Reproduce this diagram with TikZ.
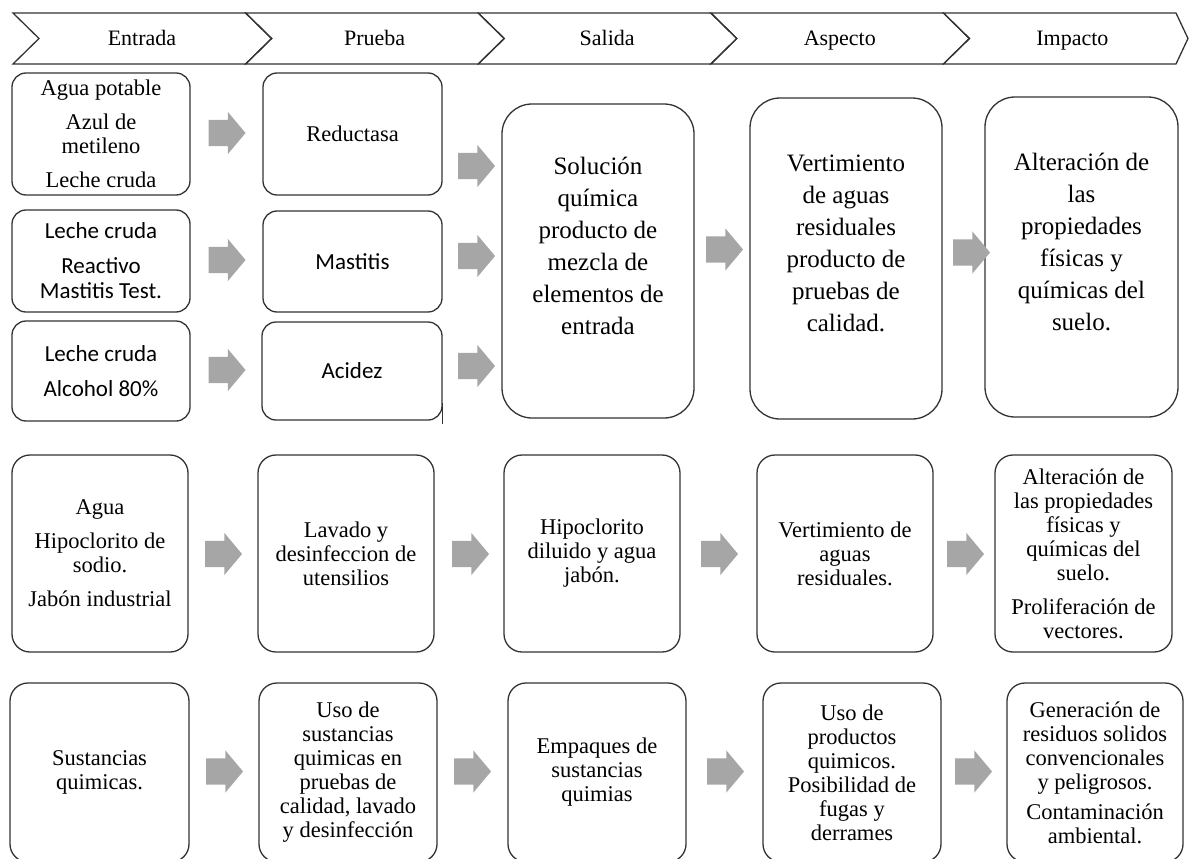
\documentclass[tikz,border=0pt]{standalone}
\usepackage{fontspec}
\setmainfont{Liberation Serif}
\newfontfamily\calibri{Carlito}
\usepackage{tikz}
\usetikzlibrary{shapes.arrows}

\begin{document}
\begin{tikzpicture}[x=1pt, y=-1pt,
    linea/.style={draw=black!80, line width=1.3pt},
    caja/.style={linea, rounded corners=14pt, align=center, inner sep=2pt,
        font=\fontsize{22.5}{24}\selectfont},
    sans/.style={font=\calibri\fontsize{23}{25}\selectfont},
    grande/.style={caja, rounded corners=30pt, minimum width=192pt, text depth=30pt,
        font=\fontsize{25}{32}\selectfont},
    fila2/.style={caja, rounded corners=18pt, minimum width=176pt, minimum height=197pt},
    fila3/.style={caja, rounded corners=18pt, minimum width=178pt, minimum height=179pt},
    flecha/.style={single arrow, fill=black!35, draw=none, inner sep=0pt, text height=26pt,
        text depth=0pt, minimum height=37pt, single arrow head extend=8pt, single arrow tip angle=100},
    etiq/.style={anchor=base, font=\fontsize{22}{24}\selectfont}]
    \useasboundingbox (0,0) rectangle (1189,859);
    \clip (0,0) rectangle (1189,859);

    \foreach \col/\nom/\pun in {0/Entrada/26, 1/Prueba/26, 2/Salida/26, 3/Aspecto/26, 4/Impacto/12}{
        \draw[linea] ({13+232.6*\col},13) -- ++(232.6,0) -- ++(\pun,25.5) -- ++(-\pun,25.5)
            -- ++(-232.6,0) -- ++(26,-25.5) -- cycle;
        \node[etiq] (h_\col) at ({142+232.6*\col},45.5) {\nom};
    }

    \node[caja, minimum width=178pt, minimum height=122pt] (ent_1) at (101,134) {Agua potable\\[10pt]Azul de\\metileno\\[10pt]Leche cruda};
    \node[caja, sans, minimum width=178pt, minimum height=102pt] (ent_2) at (101,261) {Leche cruda\\[10pt]Reactivo\\Mastitis Test.};
    \node[caja, sans, minimum width=178pt, minimum height=100pt] (ent_3) at (101,371) {Leche cruda\\[10pt]Alcohol 80\%};
    \node[caja, minimum width=179pt, minimum height=122pt] (pru_1) at (352.5,134) {Reductasa};
    \node[caja, sans, minimum width=179pt, minimum height=101pt] (pru_2) at (352.5,261.5) {Mastitis};
    \node[caja, sans, minimum width=180pt, minimum height=98pt] (pru_3) at (352,371) {Acidez};
    \node[grande, minimum height=314pt] (sal_1) at (598,261) {Solución\\química\\producto de\\mezcla de\\elementos de\\entrada};
    \node[grande, minimum height=321pt] (asp_1) at (846,258.5) {Vertimiento\\de aguas\\residuales\\producto de\\pruebas de\\calidad.};
    \node[grande, minimum width=193pt, minimum height=320pt] (imp_1) at (1081.5,257) {Alteración de\\las\\propiedades\\físicas y\\químicas del\\suelo.};
    \draw[linea, line width=1pt] (pru_3.south east) ++(0,-18) -- ++(0,21);

    \node[fila2] (ent_4) at (100,553.5) {Agua\\[10pt]Hipoclorito de\\sodio.\\[10pt]Jabón industrial};
    \node[fila2] (pru_4) at (346,553.5) {Lavado y\\desinfeccion de\\utensilios};
    \node[fila2] (sal_4) at (592,553.5) {Hipoclorito\\diluido y agua\\jabón.};
    \node[fila2] (asp_4) at (845,553.5) {Vertimiento de\\aguas\\residuales.};
    \node[fila2, minimum width=177pt] (imp_4) at (1083.5,553.5) {Alteración de\\las propiedades\\físicas y\\químicas del\\suelo.\\[10pt]Proliferación de\\vectores.};

    \node[fila3, minimum width=179pt] (ent_5) at (99.5,772.5) {Sustancias\\quimicas.};
    \node[fila3] (pru_5) at (348,772.5) {Uso de\\sustancias\\quimicas en\\pruebas de\\calidad, lavado\\y desinfección};
    \node[fila3] (sal_5) at (597,772.5) {Empaques de\\sustancias\\quimias};
    \node[fila3] (asp_5) at (852,772.5) {Uso de\\productos\\quimicos.\\Posibilidad de\\fugas y\\derrames};
    \node[fila3, minimum width=176pt] (imp_5) at (1095,772.5) {Generación de\\residuos solidos\\convencionales\\y peligrosos.\\[6pt]Contaminación\\ambiental.};

    \foreach \nom/\px/\py in {f_1/221.5/133, f_2/221.5/260, f_3/221.5/370, f_4/471/166, f_5/471/256, f_6/471/366,
        f_7/719/249.5, f_8/966/252.5, f_9/218/554, f_10/465/554, f_11/714/554, f_12/960/554,
        f_13/219/771.5, f_14/467/771.5, f_15/720/771.5, f_16/968/771.5}
        \node[flecha] (\nom) at (\px,\py) {};
\end{tikzpicture}
\end{document}
